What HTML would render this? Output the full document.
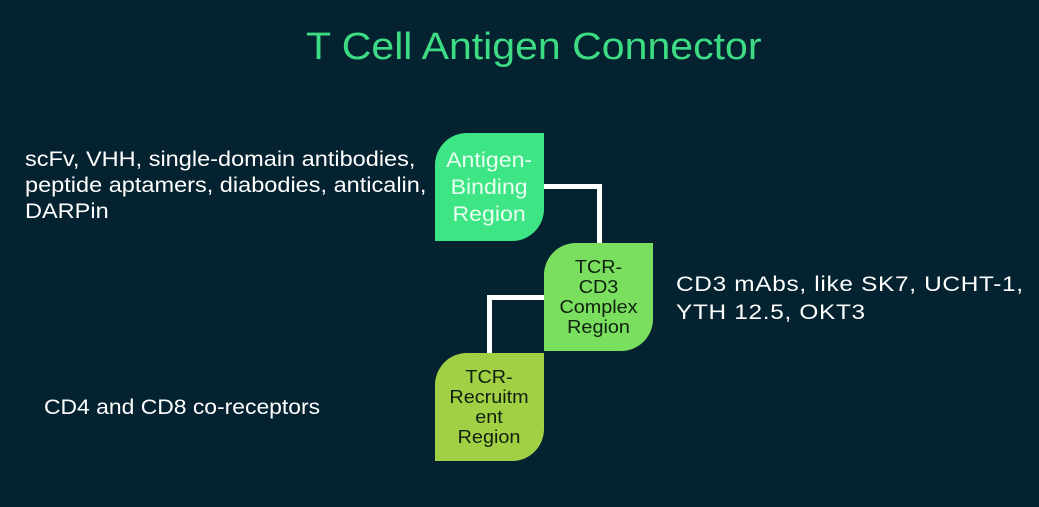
<!DOCTYPE html>
<html><head><style>
body{margin:0;width:1039px;height:507px;background:#04222f;position:relative;overflow:hidden;font-family:"Liberation Sans",sans-serif}
.t{position:absolute;white-space:nowrap;transform-origin:0 0}
.box{position:absolute;width:109px;height:108px;border-radius:32px 0 32px 0;display:flex;align-items:center;justify-content:center;text-align:center}
.box span{display:block;transform:scaleX(1.1)}
.ln{position:absolute;background:#fff}
</style></head><body>
<div class="t" style="left:306px;top:26px;font-size:38px;color:#3ddc84;transform:scaleX(1.08)">T Cell Antigen Connector</div>
<div class="t" style="left:25px;top:147px;font-size:21px;line-height:26px;color:#fff;transform:scaleX(1.12)">scFv, VHH, single-domain antibodies,<br>peptide aptamers, diabodies, anticalin,<br>DARPin</div>
<div class="t" style="left:676px;top:271px;font-size:21px;line-height:28px;color:#fff;letter-spacing:0.6px;transform:scaleX(1.16)">CD3 mAbs, like SK7, UCHT-1,<br>YTH 12.5, OKT3</div>
<div class="t" style="left:44px;top:396px;font-size:21px;color:#fff;transform:scaleX(1.09)">CD4 and CD8 co-receptors</div>
<div class="ln" style="left:544px;top:184px;width:58px;height:5px"></div>
<div class="ln" style="left:597px;top:184px;width:5px;height:60px"></div>
<div class="ln" style="left:487px;top:295px;width:58px;height:5px"></div>
<div class="ln" style="left:487px;top:295px;width:5px;height:60px"></div>
<div class="box" style="left:435px;top:133px;background:#3de584;color:#eafff0;font-size:21px;line-height:27px"><span>Antigen-<br>Binding<br>Region</span></div>
<div class="box" style="left:544px;top:243px;background:#7ade5e;color:#102010;font-size:18px;line-height:20px"><span>TCR-<br>CD3<br>Complex<br>Region</span></div>
<div class="box" style="left:435px;top:353px;background:#a2d044;color:#102010;font-size:18px;line-height:20px"><span>TCR-<br>Recruitm<br>ent<br>Region</span></div>
</body></html>
